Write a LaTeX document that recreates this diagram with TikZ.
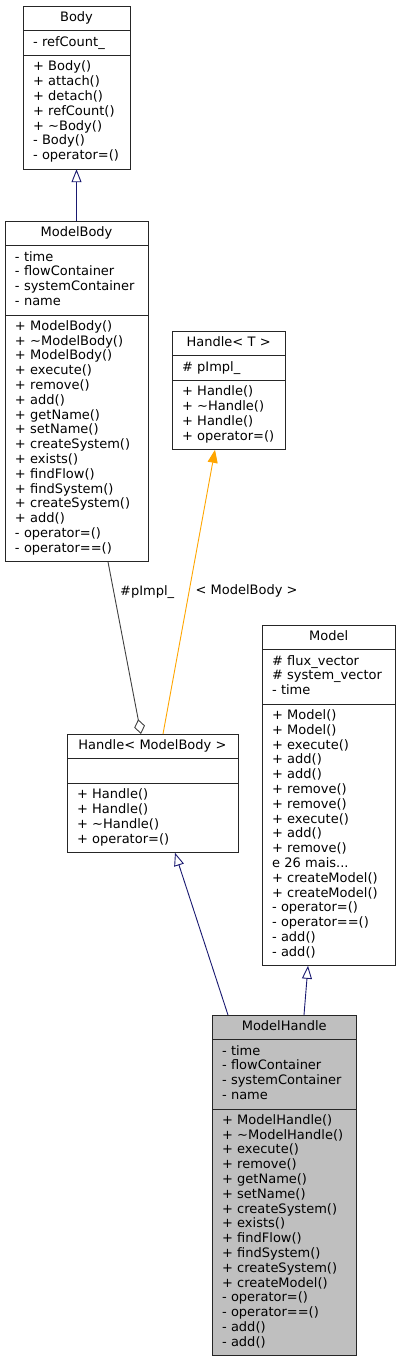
\documentclass[tikz,border=0pt]{standalone}
\usepackage{fontspec}
\setmainfont{DejaVu Sans}
\usepackage{tikz}
\usetikzlibrary{arrows.meta,positioning}
\definecolor{edgeblue}{HTML}{191970}
\definecolor{edgeorange}{HTML}{FFA500}
\definecolor{edgegray}{HTML}{404040}
\definecolor{fillgray}{HTML}{BFBFBF}
\newcommand{\umlfont}{\fontsize{13}{14.8}\selectfont}

\begin{document}
\begin{tikzpicture}[
    x=1pt, y=-1pt,
    every node/.style={font=\umlfont},
    part/.style={draw=black!85, line width=1pt, inner xsep=10pt, inner ysep=5pt, outer sep=0pt,
        text width=#1-20pt, align=left,
        execute at begin node=\strut, execute at end node=\strut},
    head/.style={part=#1, align=center},
    inherit/.style={draw=edgeblue, line width=0.9pt, -{Triangle[open, length=13pt, width=10pt]}},
    tmpl/.style={draw=edgeorange, line width=0.9pt, -{Triangle[length=13pt, width=10pt]}},
    usage/.style={draw=edgegray, line width=0.9pt, {Diamond[open, length=15pt, width=11pt]}-},
    lbl/.style={anchor=west, inner xsep=6pt}]
\useasboundingbox (0,0) rectangle (401,1361);

% Body
\node[head=107pt, anchor=north west] (body-h) at (23,6) {Body};
\node[part=107pt, below=0pt of body-h] (body-a) {- refCount\_};
\node[part=107pt, below=0pt of body-a] (body-m) {+ Body()\\ + attach()\\ + detach()\\ + refCount()\\ + \textasciitilde Body()\\ - Body()\\ - operator=()};

% ModelBody
\node[head=143pt, anchor=north west] (modelbody-h) at (5,221) {ModelBody};
\node[part=143pt, below=0pt of modelbody-h] (modelbody-a) {- time\\ - flowContainer\\ - systemContainer\\ - name};
\node[part=143pt, below=0pt of modelbody-a] (modelbody-m) {+ ModelBody()\\ + \textasciitilde ModelBody()\\ + ModelBody()\\ + execute()\\ + remove()\\ + add()\\ + getName()\\ + setName()\\ + createSystem()\\ + exists()\\ + findFlow()\\ + findSystem()\\ + createSystem()\\ + add()\\ - operator=()\\ - operator==()};

% Handle< T >
\node[head=113.5pt, anchor=north west] (handlet-h) at (172,331) {Handle< T >};
\node[part=113.5pt, below=0pt of handlet-h] (handlet-a) {\# pImpl\_};
\node[part=113.5pt, below=0pt of handlet-a] (handlet-m) {+ Handle()\\ + \textasciitilde Handle()\\ + Handle()\\ + operator=()};

% Model
\node[head=133.5pt, anchor=north west] (model-h) at (262,625) {Model};
\node[part=133.5pt, below=0pt of model-h] (model-a) {\# flux\_vector\\ \# system\_vector\\ - time};
\node[part=133.5pt, below=0pt of model-a] (model-m) {+ Model()\\ + Model()\\ + execute()\\ + add()\\ + add()\\ + remove()\\ + remove()\\ + execute()\\ + add()\\ + remove()\\ e 26 mais...\\ + createModel()\\ + createModel()\\ - operator=()\\ - operator==()\\ - add()\\ - add()};

% Handle< ModelBody >
\node[head=171pt, anchor=north west] (handlemb-h) at (67,734) {Handle< ModelBody >};
\node[part=171pt, below=0pt of handlemb-h] (handlemb-a) {};
\node[part=171pt, below=0pt of handlemb-a] (handlemb-m) {+ Handle()\\ + Handle()\\ + \textasciitilde Handle()\\ + operator=()};

% ModelHandle
\node[head=144.5pt, fill=fillgray, anchor=north west] (modelhandle-h) at (212,1015) {ModelHandle};
\node[part=144.5pt, fill=fillgray, below=0pt of modelhandle-h] (modelhandle-a) {- time\\ - flowContainer\\ - systemContainer\\ - name};
\node[part=144.5pt, fill=fillgray, below=0pt of modelhandle-a] (modelhandle-m) {+ ModelHandle()\\ + \textasciitilde ModelHandle()\\ + execute()\\ + remove()\\ + getName()\\ + setName()\\ + createSystem()\\ + exists()\\ + findFlow()\\ + findSystem()\\ + createSystem()\\ + createModel()\\ - operator=()\\ - operator==()\\ - add()\\ - add()};

% edges
\draw[inherit] (modelbody-h) -- (body-m);
\draw[usage] ([xshift=-11.5pt]handlemb-h.north) -- node[lbl, pos=0.827] (pimpl-lbl) {\#pImpl\_} ([xshift=31.5pt]modelbody-m.south);
\draw[tmpl] ([xshift=10.5pt]handlemb-h.north) -- node[lbl, pos=0.503] (tmpl-lbl) {< ModelBody >} ([xshift=-13.75pt]handlet-m.south);
\draw[inherit] ([xshift=-56.25pt]modelhandle-h.north) -- ([xshift=22.5pt]handlemb-m.south);
\draw[inherit] ([xshift=19.75pt]modelhandle-h.north) -- ([xshift=-20.75pt]model-m.south);

\end{tikzpicture}
\end{document}
